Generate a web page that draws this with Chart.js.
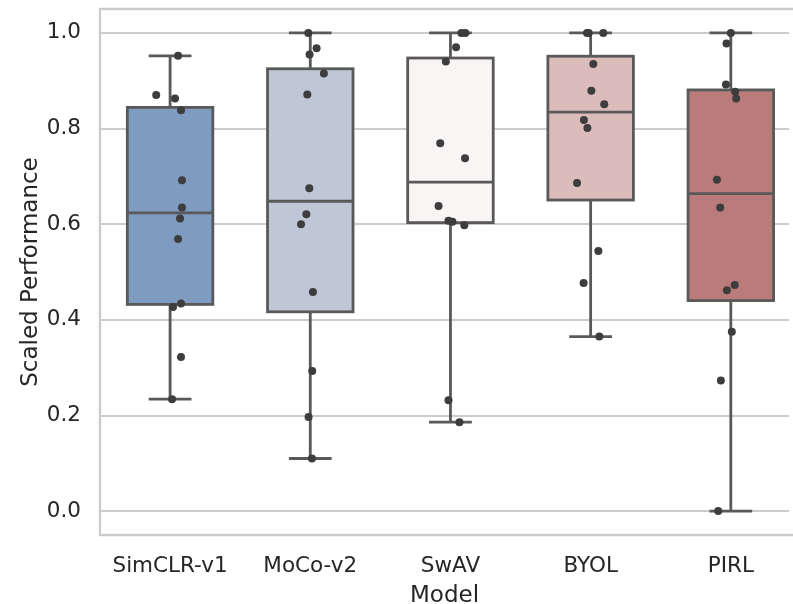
<!DOCTYPE html>
<html>
<head>
<meta charset="utf-8">
<script src="https://cdn.jsdelivr.net/npm/chart.js@4.4.0/dist/chart.umd.min.js"></script>
<style>
  body { margin: 0; background: #fff; }
  #chart { display: block; }
</style>
</head>
<body>
<canvas id="chart" width="793" height="604"></canvas>
<script>
const models = ['SimCLR-v1', 'MoCo-v2', 'SwAV', 'BYOL', 'PIRL'];
const yTicks = [0, 0.2, 0.4, 0.6, 0.8, 1.0];

// scores per model
const simclrScores = [0.952, 0.870, 0.863, 0.838, 0.692, 0.635, 0.612, 0.569, 0.434, 0.427, 0.322, 0.234];
const mocoScores = [1.0, 0.968, 0.955, 0.915, 0.871, 0.675, 0.621, 0.600, 0.458, 0.293, 0.197, 0.110];
const swavScores = [1.0, 1.0, 0.970, 0.940, 0.769, 0.738, 0.638, 0.607, 0.605, 0.598, 0.232, 0.186];
const byolScores = [1.0, 1.0, 1.0, 0.935, 0.879, 0.851, 0.818, 0.801, 0.686, 0.544, 0.477, 0.365];
const pirlScores = [1.0, 0.978, 0.892, 0.877, 0.863, 0.693, 0.635, 0.473, 0.462, 0.375, 0.273, 0.0];

// horizontal jitter of each point (in category units)
const simclrJitter = [0.057, -0.099, 0.035, 0.078, 0.085, 0.085, 0.071, 0.057, 0.078, 0.021, 0.078, 0.014];
const mocoJitter = [-0.014, 0.045, -0.005, 0.097, -0.021, -0.007, -0.028, -0.066, 0.019, 0.014, -0.012, 0.012];
const swavJitter = [0.078, 0.106, 0.040, -0.033, -0.073, 0.104, -0.085, -0.014, 0.014, 0.099, -0.014, 0.064];
const byolJitter = [-0.026, 0.090, -0.014, 0.019, 0.005, 0.097, -0.048, -0.023, -0.097, 0.055, -0.050, 0.062];
const pirlJitter = [0.0, -0.031, -0.035, 0.031, 0.038, -0.099, -0.076, 0.028, -0.028, 0.007, -0.071, -0.090];

const allScores = [simclrScores, mocoScores, swavScores, byolScores, pirlScores];
const allJitter = [simclrJitter, mocoJitter, swavJitter, byolJitter, pirlJitter];

const boxColors = ['#7f9bbf', '#bfc7d6', '#f9f5f4', '#dcbcbb', '#b97c7a'];
const lineColor = '#595959';
const pointColor = '#3d3d3d';
const boxWidth = 0.61;

function quantile(sorted, q) {
  const pos = (sorted.length - 1) * q;
  const lo = Math.floor(pos);
  const hi = Math.ceil(pos);
  return sorted[lo] + (sorted[hi] - sorted[lo]) * (pos - lo);
}

function boxStats(scores) {
  const s = [...scores].sort((a, b) => a - b);
  const q1 = quantile(s, 0.25);
  const med = quantile(s, 0.5);
  const q3 = quantile(s, 0.75);
  const iqr = q3 - q1;
  const lo = Math.min(...s.filter(v => v >= q1 - 1.5 * iqr));
  const hi = Math.max(...s.filter(v => v <= q3 + 1.5 * iqr));
  return { q1, med, q3, lo, hi };
}

// draws the axes frame and the boxes underneath the points
const boxPlugin = {
  id: 'boxPlugin',
  beforeDatasetsDraw(chart) {
    const ctx = chart.ctx;
    const x = chart.scales.x;
    const y = chart.scales.y;
    const area = chart.chartArea;

    ctx.save();
    ctx.strokeStyle = '#cccccc';
    ctx.lineWidth = 2.4;
    ctx.beginPath();
    ctx.moveTo(area.right + 5, area.top);
    ctx.lineTo(area.left, area.top);
    ctx.lineTo(area.left, area.bottom);
    ctx.lineTo(area.right + 5, area.bottom);
    ctx.stroke();

    ctx.strokeStyle = lineColor;
    ctx.lineWidth = 2.8;
    allScores.forEach((scores, i) => {
      const st = boxStats(scores);
      const left = x.getPixelForValue(i - boxWidth / 2);
      const right = x.getPixelForValue(i + boxWidth / 2);
      const cx = x.getPixelForValue(i);
      const capL = x.getPixelForValue(i - boxWidth / 4);
      const capR = x.getPixelForValue(i + boxWidth / 4);
      const yq1 = y.getPixelForValue(st.q1);
      const yq3 = y.getPixelForValue(st.q3);
      const ymed = y.getPixelForValue(st.med);
      const ylo = y.getPixelForValue(st.lo);
      const yhi = y.getPixelForValue(st.hi);

      ctx.beginPath();
      ctx.moveTo(cx, yq3); ctx.lineTo(cx, yhi);
      ctx.moveTo(cx, yq1); ctx.lineTo(cx, ylo);
      ctx.moveTo(capL, yhi); ctx.lineTo(capR, yhi);
      ctx.moveTo(capL, ylo); ctx.lineTo(capR, ylo);
      ctx.stroke();

      ctx.fillStyle = boxColors[i];
      ctx.fillRect(left, yq3, right - left, yq1 - yq3);
      ctx.strokeRect(left, yq3, right - left, yq1 - yq3);

      ctx.beginPath();
      ctx.moveTo(left, ymed); ctx.lineTo(right, ymed);
      ctx.stroke();
    });
    ctx.restore();
  }
};

const tickFont = { family: 'DejaVu Sans', size: 21.5 };
const titleFont = { family: 'DejaVu Sans', size: 23, lineHeight: 1 };

new Chart(document.getElementById('chart'), {
  type: 'scatter',
  data: {
    datasets: allScores.map((scores, i) => ({
      label: models[i],
      data: scores.map((v, j) => ({ x: i + allJitter[i][j], y: v })),
      pointRadius: 4,
      pointBackgroundColor: pointColor,
      pointBorderWidth: 0,
      showLine: false
    }))
  },
  options: {
    responsive: false,
    animation: false,
    layout: { padding: { top: 9, left: 0, right: 0, bottom: 0 } },
    plugins: {
      legend: { display: false },
      tooltip: { enabled: false }
    },
    scales: {
      x: {
        type: 'linear',
        min: -0.5,
        max: 4.415,
        afterBuildTicks: s => { s.ticks = models.map((m, i) => ({ value: i })); },
        afterFit: s => { s.height = 69; s.paddingLeft = 0; s.paddingRight = 0; },
        grid: { display: false },
        border: { display: false },
        ticks: {
          callback: (v, idx) => models[idx],
          font: tickFont,
          color: '#262626',
          padding: 11,
          maxRotation: 0
        },
        title: {
          display: true,
          text: 'Model',
          font: titleFont,
          color: '#262626',
          padding: { top: 0, bottom: -4 }
        }
      },
      y: {
        min: -0.05,
        max: 1.05,
        afterBuildTicks: s => { s.ticks = yTicks.map(v => ({ value: v })); },
        afterFit: s => { s.width = 100; s.paddingTop = 0; s.paddingBottom = 0; },
        grid: { color: '#cccccc', lineWidth: 1.9, drawTicks: false },
        border: { display: false },
        ticks: {
          callback: v => v.toFixed(1),
          font: tickFont,
          color: '#262626',
          padding: 19
        },
        title: {
          display: true,
          text: 'Scaled Performance',
          font: titleFont,
          color: '#262626',
          padding: { top: 20, bottom: 0 }
        }
      }
    }
  },
  plugins: [boxPlugin]
});
</script>
</body>
</html>
